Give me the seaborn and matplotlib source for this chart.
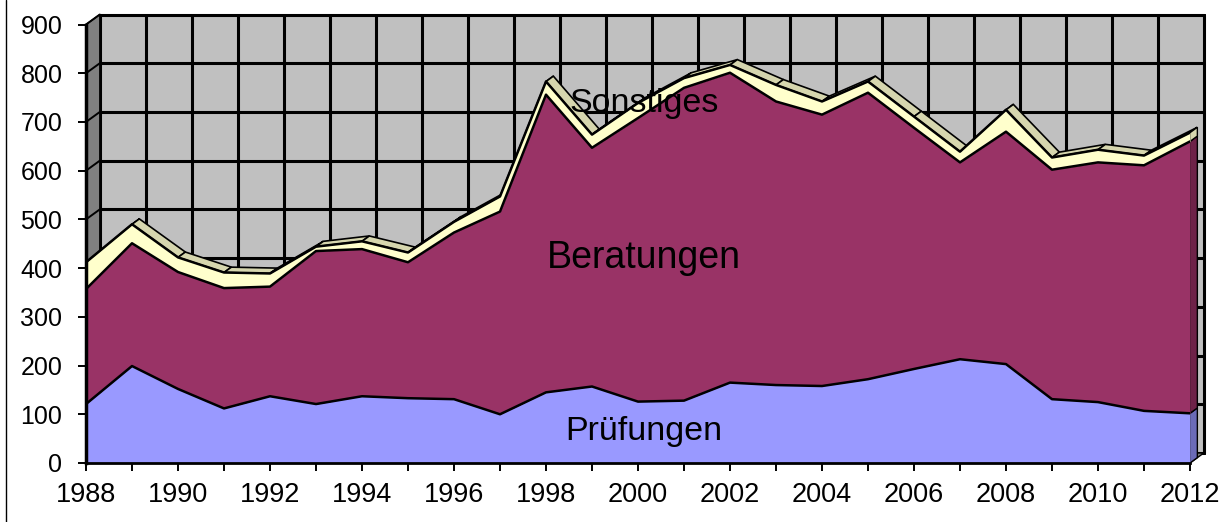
import numpy as np
import pandas as pd
import matplotlib
matplotlib.use("Agg")
import matplotlib.pyplot as plt
from matplotlib.patches import Polygon
from matplotlib.lines import Line2D
import seaborn as sns

# ── Data ──────────────────────────────────────────────────────────────────────

years = list(range(1988, 2013))
pruefungen = [121, 199, 152, 112, 137, 121, 137, 133, 131, 100, 145, 157, 126,
              128, 165, 160, 158, 172, 193, 213, 203, 131, 125, 107, 102]
beratungen = [236, 252, 240, 247, 225, 314, 302, 279, 342, 416, 611, 490, 582,
              642, 636, 582, 557, 588, 495, 404, 477, 471, 492, 504, 558]
sonstiges = [55, 39, 30, 32, 27, 9, 16, 20, 22, 31, 27, 27, 31,
             20, 16, 34, 27, 23, 23, 22, 45, 25, 26, 20, 18]
layer_names = ["Prüfungen", "Beratungen", "Sonstiges"]
xtick_labels = [str(y) if y % 2 == 0 else "" for y in years]
yticks = list(range(0, 1000, 100))

df = pd.DataFrame({"Jahr": years, "Prüfungen": pruefungen,
                   "Beratungen": beratungen, "Sonstiges": sonstiges})
df["c1"] = df["Prüfungen"]
df["c2"] = df["c1"] + df["Beratungen"]
df["c3"] = df["c2"] + df["Sonstiges"]

# ── Style ─────────────────────────────────────────────────────────────────────

sns.set_theme(style="white")
plt.rcParams["font.family"] = ["Liberation Sans", "DejaVu Sans"]
plt.rcParams["text.color"] = "black"
plt.rcParams["xtick.color"] = "black"
plt.rcParams["ytick.color"] = "black"

front = ["#9999FF", "#993366", "#FFFFCC"]
side = ["#6B6BB8", "#6E2248", "#D6D6AE"]
top_face = "#D6D6AE"
wall = "#C0C0C0"
dark = "#808080"

W, H = 1222, 522
fig = plt.figure(figsize=(W / 100, H / 100), dpi=100)
ax = fig.add_axes([86 / W, 59 / H, 1104 / W, 438.5 / H])
ax.set_xlim(1988, 2012)
ax.set_ylim(0, 900)
ax.set_facecolor("white")

# 3D depth offsets (data units): walls and the area's own depth
dx, dy = 0.30, 20.5
sdx, sdy = 0.16, 11
x0, x1 = years[0], years[-1]
ymax = 900

# back wall + grid
ax.add_patch(Polygon([(x0 + dx, dy), (x1 + dx, dy), (x1 + dx, ymax + dy), (x0 + dx, ymax + dy)],
                     closed=True, facecolor=wall, edgecolor="black", lw=2,
                     zorder=0.5, clip_on=False))
for yr in years:
    ax.plot([yr + dx, yr + dx], [dy, ymax + dy], color="black", lw=2.2,
            zorder=0.6, clip_on=False)
for v in yticks:
    ax.plot([x0 + dx, x1 + dx], [v + dy, v + dy], color="black", lw=2.2,
            zorder=0.6, clip_on=False)

# side wall and floor
ax.add_patch(Polygon([(x0, 0), (x0 + dx, dy), (x0 + dx, ymax + dy), (x0, ymax)],
                     closed=True, facecolor=dark, edgecolor="black", lw=1,
                     zorder=0.7, clip_on=False))
ax.add_patch(Polygon([(x0, 0), (x1, 0), (x1 + dx, dy), (x0 + dx, dy)],
                     closed=True, facecolor=dark, edgecolor="black", lw=1,
                     zorder=0.7, clip_on=False))
for v in yticks:
    ax.plot([x0, x0 + dx], [v, v + dy], color="black", lw=1.4, zorder=0.8, clip_on=False)

# top face of the stacked area
tot = df["c3"].to_numpy()
xs = df["Jahr"].to_numpy()
for i in range(len(xs) - 1):
    ax.add_patch(Polygon([(xs[i], tot[i]), (xs[i + 1], tot[i + 1]),
                          (xs[i + 1] + sdx, tot[i + 1] + sdy), (xs[i] + sdx, tot[i] + sdy)],
                         closed=True, facecolor=top_face, edgecolor="black", lw=1.2,
                         zorder=2, clip_on=False))

# right end faces
lows = [np.zeros(len(df)), df["c1"].to_numpy(), df["c2"].to_numpy()]
highs = [df["c1"].to_numpy(), df["c2"].to_numpy(), df["c3"].to_numpy()]
for lo, hi, c in zip(lows, highs, side):
    ax.add_patch(Polygon([(x1, lo[-1]), (x1 + sdx, lo[-1] + sdy),
                          (x1 + sdx, hi[-1] + sdy), (x1, hi[-1])],
                         closed=True, facecolor=c, edgecolor="black", lw=1,
                         zorder=2, clip_on=False))

# front faces
for lo, hi, c in zip(lows, highs, front):
    ax.fill_between(xs, lo, hi, color=c, lw=0, zorder=3)
for col in ["c1", "c2", "c3"]:
    sns.lineplot(data=df, x="Jahr", y=col, ax=ax, color="black", lw=1.8,
                 zorder=4, legend=False)

# layer labels
ax.text(2000.13, 720, "Sonstiges", ha="center", va="baseline", fontsize=24.5,
        color="black", zorder=6)
ax.text(2000.13, 400, "Beratungen", ha="center", va="baseline", fontsize=27,
        color="black", zorder=6)
ax.text(2000.13, 47, "Prüfungen", ha="center", va="baseline", fontsize=24.5,
        color="black", zorder=6)

# axes
ax.set_xlabel("")
ax.set_ylabel("")
ax.set_xticks(years)
ax.set_xticklabels(xtick_labels, fontsize=19.5)
ax.set_yticks(yticks)
ax.set_yticklabels([str(v) for v in yticks], fontsize=18)
ax.tick_params(axis="x", direction="out", length=6, width=1.4, pad=8, bottom=True)
ax.tick_params(axis="y", direction="out", length=6, width=1.4, pad=11, left=True)
for s in ["top", "right"]:
    ax.spines[s].set_visible(False)
ax.spines["left"].set_color("black")
ax.spines["left"].set_linewidth(2.5)
ax.spines["bottom"].set_color("black")
ax.spines["bottom"].set_linewidth(2)
ax.spines["left"].set_zorder(5)
ax.spines["bottom"].set_zorder(5)

fig.add_artist(Line2D([5.5 / W, 5.5 / W], [0, 1], transform=fig.transFigure,
                      color="black", lw=1))

fig.savefig("out.png", dpi=100)
plt.close(fig)
